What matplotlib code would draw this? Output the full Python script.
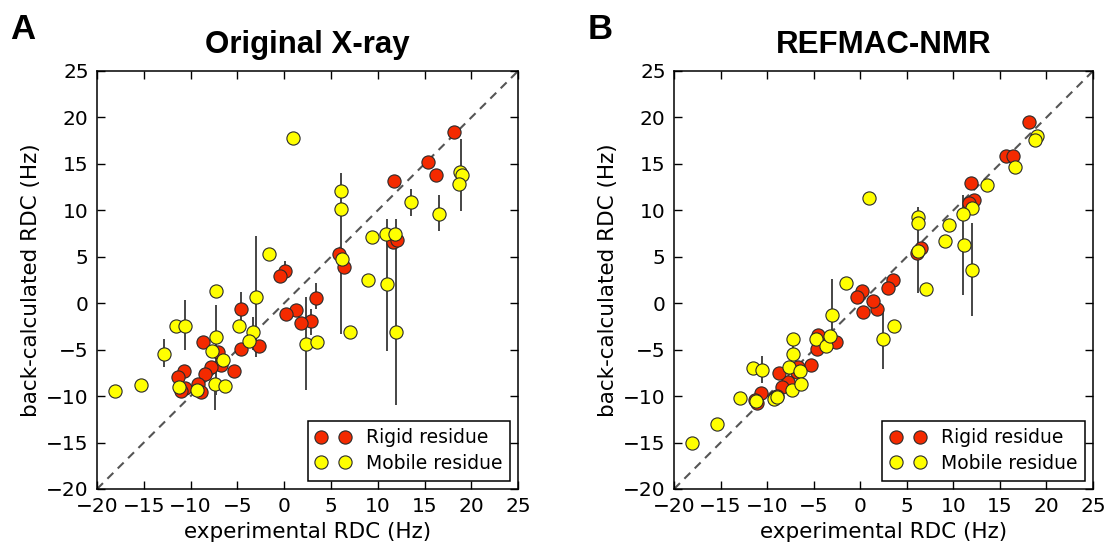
import matplotlib
matplotlib.use("Agg")
import matplotlib.pyplot as plt
from matplotlib.lines import Line2D

# ============================================================
# 1. DATA
# ============================================================

# ---------------- Panel A : Original X-ray ----------------
a_rigid_x = [18.1, 15.4, 16.2, 11.7, 11.6, 12.05, 5.9, 6.4, 3.4, 2.9,
             1.85, 1.25, 0.2, 0.1, -0.45, -2.7, -4.6, -4.6, -5.35, -6.75,
             -7.05, -7.85, -8.45, -8.7, -9.2, -8.9, -10.6, -11.05, -10.7, -11.4]
a_rigid_y = [18.4, 15.2, 13.8, 13.2, 6.6, 6.85, 5.3, 3.95, 0.6, -1.9,
             -2.15, -0.75, -1.2, 3.5, 2.95, -4.6, -4.95, -0.6, -7.25, -6.65,
             -5.25, -6.9, -7.6, -4.2, -8.7, -9.6, -9.1, -9.45, -7.25, -7.95]

a_mobile_x = [0.9, -1.6, 18.8, 19.0, 18.7, 13.5, 16.5, 6.05, 6.1, 6.15,
              9.4, 10.9, 11.85, 8.95, 11.0, 11.95, 7.05, 2.35, 3.55, -18.05,
              -15.35, -12.85, -11.55, -10.6, -7.3, -7.25, -7.7, -6.55, -4.85, -3.05,
              -3.3, -3.75, -11.25, -9.3, -7.4, -6.35]
a_mobile_y = [17.8, 5.3, 14.1, 13.8, 12.8, 10.9, 9.65, 12.1, 10.15, 4.75,
              7.1, 7.4, 7.5, 2.55, 2.05, -3.15, -3.15, -4.4, -4.2, -9.45,
              -8.85, -5.45, -2.4, -2.4, 1.3, -3.65, -5.1, -6.1, -2.4, 0.7,
              -3.15, -4.05, -9.0, -9.35, -8.75, -8.95]

# error bars : position, lower end, upper end
a_err_x = [-3.05, 0.1, 18.9, 13.5, 16.5, 6.1, 10.95, 11.9, 2.35, 3.4,
           2.9, -7.25, -10.6, -12.85, -4.6, -3.3, -7.35]
a_err_lo = [-5.75, 3.5, 9.9, 9.4, 7.8, -3.3, -5.1, -11.0, -9.3, -0.65,
            -3.4, -9.9, -5.0, -6.9, -1.8, -5.0, -11.5]
a_err_hi = [7.2, 4.5, 17.7, 12.3, 11.65, 14.0, 9.1, 9.1, 0.7, 2.15,
            -0.65, -0.2, 0.35, -3.9, 1.25, -1.45, -8.0]

# ---------------- Panel B : REFMAC-NMR ----------------
b_rigid_x = [18.15, 15.6, 16.4, 11.85, 12.2, 11.7, 6.05, 6.5, 3.55, 3.0,
             1.85, 1.35, 0.25, 0.15, -0.35, -2.65, -4.6, -4.55, -5.3, -6.75,
             -6.65, -7.8, -8.45, -8.7, -9.15, -10.7, -11.05, -8.9, -11.3]
b_rigid_y = [19.5, 15.8, 15.8, 12.9, 11.1, 10.75, 5.4, 5.9, 2.5, 1.65,
             -0.6, 0.2, -0.9, 1.3, 0.7, -4.15, -4.9, -3.45, -6.7, -7.45,
             -6.85, -8.5, -9.0, -7.55, -10.05, -9.7, -10.75, -10.0, -10.4]

b_mobile_x = [0.95, -1.55, 19.0, 18.8, 16.65, 13.65, 12.0, 11.05, 9.55, 9.05,
              11.1, 12.05, 6.2, 6.25, 6.25, 7.1, 3.65, 2.4, -18.1, -15.35,
              -12.9, -11.55, -10.6, -11.2, -9.25, -8.9, -7.35, -7.7, -7.2, -7.2,
              -6.45, -6.4, -4.8, -3.7, -3.25, -3.0]
b_mobile_y = [11.35, 2.15, 18.0, 17.55, 14.7, 12.75, 10.2, 9.6, 8.4, 6.75,
              6.25, 3.6, 9.3, 8.6, 5.6, 1.55, -2.5, -3.8, -15.05, -13.05,
              -10.2, -6.95, -7.2, -10.55, -10.3, -10.1, -9.3, -6.85, -5.5, -3.9,
              -7.3, -8.65, -3.9, -4.65, -3.55, -1.25]

b_err_x = [18.9, 11.05, 12.05, 6.2, 2.4, -3.0, -10.6, -7.2, -7.35]
b_err_lo = [17.0, 0.9, -1.4, 1.1, -7.1, -5.0, -8.6, -6.1, -10.1]
b_err_hi = [18.7, 11.65, 8.6, 10.4, -0.6, 2.6, -5.7, -3.4, -9.3]

axis_ticks = [-20, -15, -10, -5, 0, 5, 10, 15, 20, 25]


# ============================================================
# 2. STYLE
# ============================================================

RED = "#f42a00"
YELLOW = "#ffff00"
EDGE = "#2a2a2a"
BAR = "#454545"

plt.rcParams["font.family"] = "DejaVu Sans"


def draw_panel(ax, rx, ry, mx, my, ex, elo, ehi, title):

    # identity line
    ax.plot([-20, 25], [-20, 25], color="#555555", lw=1.5,
            linestyle=(0, (4, 3)), zorder=1)

    # error bars
    ax.vlines(ex, elo, ehi, color=BAR, lw=1.4, zorder=2)

    ax.plot(rx, ry, linestyle="none", marker="o", ms=9.5,
            mfc=RED, mec=EDGE, mew=0.8, zorder=3)
    ax.plot(mx, my, linestyle="none", marker="o", ms=9.5,
            mfc=YELLOW, mec=EDGE, mew=0.8, zorder=4)

    ax.set_xlim(-20, 25)
    ax.set_ylim(-20, 25)
    ax.set_xticks(axis_ticks)
    ax.set_yticks(axis_ticks)
    ax.tick_params(direction="in", top=True, right=True, length=5.5,
                   width=1, labelsize=14.5, pad=6)

    for spine in ax.spines.values():
        spine.set_linewidth(1.1)

    ax.set_xlabel("experimental RDC (Hz)", fontsize=15.5, labelpad=4)
    ax.set_ylabel("back-calculated RDC (Hz)", fontsize=15.5, labelpad=4)

    ax.set_title(title, fontsize=22.5, fontweight="bold",
                 family="Liberation Sans", pad=13)

    handles = [
        Line2D([], [], linestyle="none", marker="o", ms=9.5,
               mfc=RED, mec=EDGE, mew=0.8),
        Line2D([], [], linestyle="none", marker="o", ms=9.5,
               mfc=YELLOW, mec=EDGE, mew=0.8),
    ]
    leg = ax.legend(handles, ["Rigid residue", "Mobile residue"],
                    loc="lower right", numpoints=2, fontsize=13.5,
                    fancybox=False, framealpha=1, edgecolor="black",
                    borderaxespad=0.45, handlelength=1.9,
                    handletextpad=0.8, borderpad=0.4, labelspacing=0.35)
    leg.get_frame().set_linewidth(1.1)


# ============================================================
# 3. FIGURE
# ============================================================

fig = plt.figure(figsize=(11.09, 5.49), dpi=100)

ax_a = fig.add_axes([0.0875, 0.1093, 0.3797, 0.7614])
ax_b = fig.add_axes([0.6078, 0.1093, 0.3778, 0.7614])

draw_panel(ax_a, a_rigid_x, a_rigid_y, a_mobile_x, a_mobile_y,
           a_err_x, a_err_lo, a_err_hi, "Original X-ray")
draw_panel(ax_b, b_rigid_x, b_rigid_y, b_mobile_x, b_mobile_y,
           b_err_x, b_err_lo, b_err_hi, "REFMAC-NMR")

# panel letters
fig.text(10 / 1109, 1 - 39 / 549, "A", fontsize=25, fontweight="bold",
         family="Liberation Sans", va="baseline")
fig.text(588 / 1109, 1 - 39 / 549, "B", fontsize=25, fontweight="bold",
         family="Liberation Sans", va="baseline")

fig.savefig("out.png", dpi=100)
